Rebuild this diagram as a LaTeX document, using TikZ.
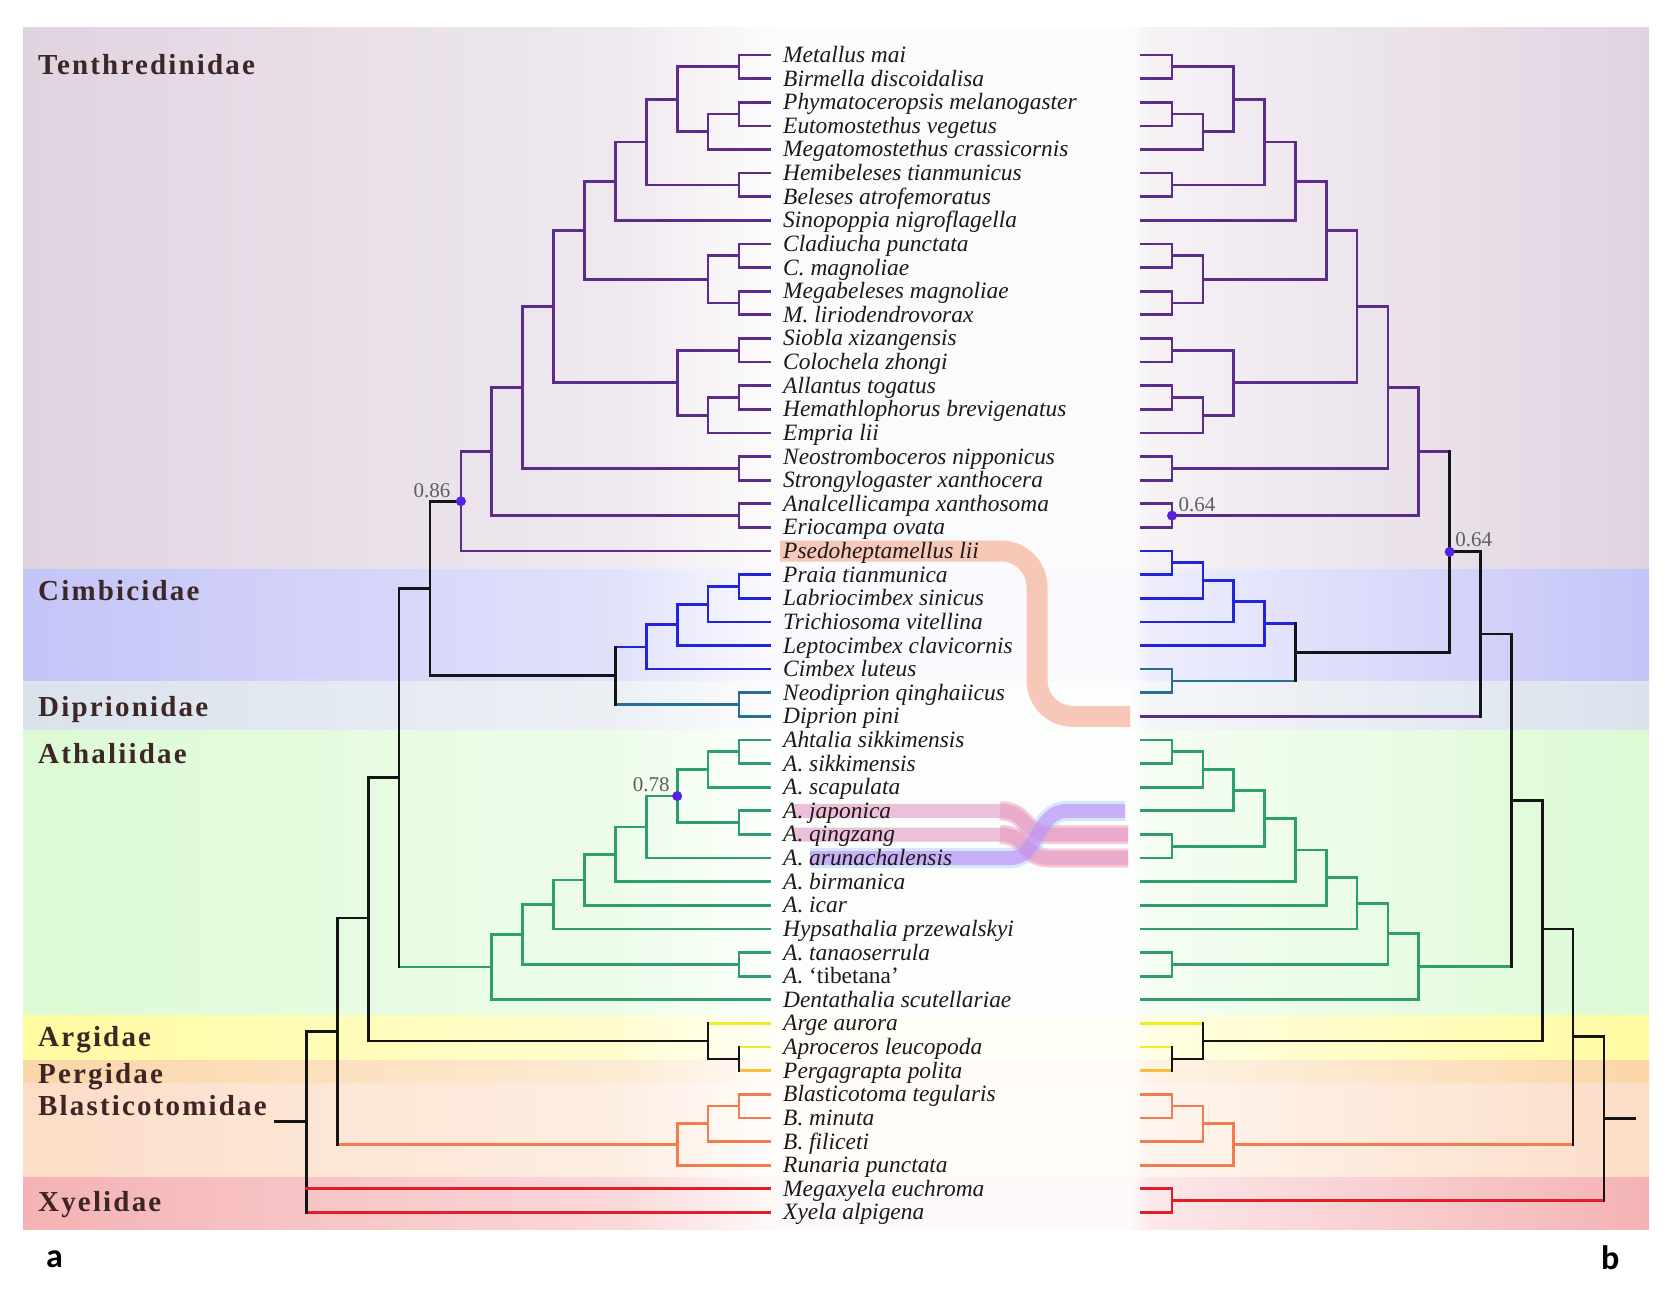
\documentclass[tikz,border=0pt]{standalone}
\usepackage{fontspec}
\setmainfont{Liberation Serif}
\newfontfamily\famfont[LetterSpace=7.5]{Liberation Serif}
\newfontfamily\panelfont{Carlito}
\usetikzlibrary{calc}
\definecolor{cpur}{RGB}{92,44,138}
\definecolor{cblu}{RGB}{35,35,215}
\definecolor{cteal}{RGB}{40,110,150}
\definecolor{cgrn}{RGB}{46,158,110}
\definecolor{cyel}{RGB}{238,236,40}
\definecolor{cgold}{RGB}{245,192,50}
\definecolor{corg}{RGB}{240,125,80}
\definecolor{cred}{RGB}{225,30,40}
\definecolor{cblk}{RGB}{20,20,20}
\definecolor{cdot}{RGB}{85,35,225}
\definecolor{ctxt}{RGB}{30,25,25}
\definecolor{cfam}{RGB}{60,38,38}
\definecolor{cbs}{RGB}{95,95,95}
\definecolor{bTen}{RGB}{224,211,224}
\definecolor{bCim}{RGB}{196,196,248}
\definecolor{bDip}{RGB}{218,226,236}
\definecolor{bAth}{RGB}{220,250,212}
\definecolor{bArg}{RGB}{255,251,160}
\definecolor{bPer}{RGB}{251,214,168}
\definecolor{bBla}{RGB}{252,221,198}
\definecolor{bXye}{RGB}{245,178,180}
\definecolor{ribO}{RGB}{246,186,166}
\definecolor{ribP}{RGB}{226,150,196}
\definecolor{ribPe}{RGB}{235,100,155}
\definecolor{ribV}{RGB}{192,140,246}
\definecolor{ribVe}{RGB}{176,208,255}
\tikzset{
  br/.style={line width=2.7pt, line cap=rect},
  leaf/.style={anchor=base west, inner sep=0pt, text=ctxt, font=\fontsize{23.4}{24}\selectfont\itshape},
  fam/.style={anchor=base west, inner sep=0pt, text=cfam, font=\fontsize{29}{30}\selectfont\famfont\bfseries},
  bs/.style={inner sep=0pt, text=cbs, font=\fontsize{21}{22}\selectfont},
  panel/.style={anchor=base west, inner sep=0pt, text=black, font=\fontsize{34}{36}\selectfont\panelfont\bfseries},
  ribbonO/.style={line width=21pt, draw=ribO, opacity=0.8, rounded corners=36pt},
  ribPo/.style={line width=19pt, draw=ribPe, opacity=0.35},
  ribPi/.style={line width=14pt, draw=ribP, opacity=0.6},
  ribVo/.style={line width=20pt, draw=ribVe, opacity=0.5},
  ribVi/.style={line width=14pt, draw=ribV, opacity=0.6},
}
% name, child1, child2, level, vertical colour, child1 colour, child2 colour
\newcommand\mkclade[7]{%
  \coordinate (#1m) at ($(#2)!.5!(#3)$);
  \coordinate (#1) at (#1m -| #4);
  \draw[br,#6] (#4 |- #2) -- (#2);
  \draw[br,#7] (#4 |- #3) -- (#3);
  \draw[br,#5] (#4 |- #2) -- (#4 |- #3);}
\newcommand\mkband[3]{%
  \shade[left color=#3, right color=#3!50!white] (23,#1) rectangle (621,#2);
  \shade[left color=#3!50!white, right color=#3!8!white] (620,#1) rectangle (776,#2);
  \fill[#3!8!white] (775,#1) rectangle (1131,#2);
  \shade[left color=#3!8!white, right color=#3!30!white] (1130,#1) rectangle (1151,#2);
  \shade[left color=#3!30!white, right color=#3] (1150,#1) rectangle (1649,#2);}
\begin{document}
\begin{tikzpicture}[x=1pt,y=-1pt]
\useasboundingbox (0,0) rectangle (1667,1295);
\fill[white] (0,0) rectangle (1667,1295);
% background bands
\mkband{28}{569}{bTen}
\mkband{569}{681}{bCim}
\mkband{681}{730}{bDip}
\mkband{730}{1015}{bAth}
\mkband{1015}{1060}{bArg}
\mkband{1060}{1083}{bPer}
\mkband{1083}{1177}{bBla}
\mkband{1177}{1229}{bXye}
% levels and leaf tips
\foreach \k in {0,...,15} {\coordinate (a\k) at ({739-30.9*\k},0);}
\foreach \k in {0,...,15} {\coordinate (b\k) at ({1172+30.85*\k},0);}
\foreach \i in {1,...,50} {\coordinate (la\i) at (770,{55+(\i-1)*23.62});
  \coordinate (lb\i) at (1141,{55+(\i-1)*23.62});}
% ribbons
\draw[ribbonO] (780,551.0) -- (1037,551.0) -- (1037,716.4) -- (1130,716.4);
\draw[ribPo] (1000,810.8) .. controls (1028,810.8) and (1022,834.5) .. (1050,834.5) -- (1128,834.5);
\draw[ribPo] (1000,834.5) .. controls (1028,834.5) and (1022,858.1) .. (1050,858.1) -- (1128,858.1);
\draw[ribVo] (810,858.1) -- (1010,858.1) .. controls (1040,858.1) and (1035,810.8) .. (1068,810.8) -- (1125,810.8);
\draw[ribPi] (793,810.8) -- (1000,810.8) .. controls (1028,810.8) and (1022,834.5) .. (1050,834.5) -- (1128,834.5);
\draw[ribPi] (793,834.5) -- (1000,834.5) .. controls (1028,834.5) and (1022,858.1) .. (1050,858.1) -- (1128,858.1);
\draw[ribVi] (810,858.1) -- (1010,858.1) .. controls (1040,858.1) and (1035,810.8) .. (1068,810.8) -- (1125,810.8);
% ---------- left tree (a) ----------
\mkclade{lA}{la1}{la2}{a0}{cpur}{cpur}{cpur}
\mkclade{lB}{la3}{la4}{a0}{cpur}{cpur}{cpur}
\mkclade{lC}{lB}{la5}{a1}{cpur}{cpur}{cpur}
\mkclade{lD}{lA}{lC}{a2}{cpur}{cpur}{cpur}
\mkclade{lE}{la6}{la7}{a0}{cpur}{cpur}{cpur}
\mkclade{lF}{lD}{lE}{a3}{cpur}{cpur}{cpur}
\mkclade{lG}{lF}{la8}{a4}{cpur}{cpur}{cpur}
\mkclade{lHa}{la9}{la10}{a0}{cpur}{cpur}{cpur}
\mkclade{lHb}{la11}{la12}{a0}{cpur}{cpur}{cpur}
\mkclade{lH}{lHa}{lHb}{a1}{cpur}{cpur}{cpur}
\mkclade{lI}{lG}{lH}{a5}{cpur}{cpur}{cpur}
\mkclade{lJa}{la13}{la14}{a0}{cpur}{cpur}{cpur}
\mkclade{lJb}{la15}{la16}{a0}{cpur}{cpur}{cpur}
\mkclade{lJc}{lJb}{la17}{a1}{cpur}{cpur}{cpur}
\mkclade{lJ}{lJa}{lJc}{a2}{cpur}{cpur}{cpur}
\mkclade{lK}{lI}{lJ}{a6}{cpur}{cpur}{cpur}
\mkclade{lL}{la18}{la19}{a0}{cpur}{cpur}{cpur}
\mkclade{lM}{lK}{lL}{a7}{cpur}{cpur}{cpur}
\mkclade{lN}{la20}{la21}{a0}{cpur}{cpur}{cpur}
\mkclade{lO}{lM}{lN}{a8}{cpur}{cpur}{cpur}
\mkclade{lP}{lO}{la22}{a9}{cpur}{cpur}{cpur}
\mkclade{lRa}{la23}{la24}{a0}{cblu}{cblu}{cblu}
\mkclade{lRb}{lRa}{la25}{a1}{cblu}{cblu}{cblu}
\mkclade{lRc}{lRb}{la26}{a2}{cblu}{cblu}{cblu}
\mkclade{lRd}{lRc}{la27}{a3}{cblu}{cblu}{cblu}
\mkclade{lRe}{la28}{la29}{a0}{cteal}{cteal}{cteal}
\mkclade{lRf}{lRd}{lRe}{a4}{cblk}{cblu}{cteal}
\mkclade{lTa}{lP}{lRf}{a10}{cblk}{cblk}{cblk}
\mkclade{lQa}{la30}{la31}{a0}{cgrn}{cgrn}{cgrn}
\mkclade{lQb}{lQa}{la32}{a1}{cgrn}{cgrn}{cgrn}
\mkclade{lQc}{la33}{la34}{a0}{cgrn}{cgrn}{cgrn}
\mkclade{lQd}{lQb}{lQc}{a2}{cgrn}{cgrn}{cgrn}
\mkclade{lQe}{lQd}{la35}{a3}{cgrn}{cgrn}{cgrn}
\mkclade{lQf}{lQe}{la36}{a4}{cgrn}{cgrn}{cgrn}
\mkclade{lQg}{lQf}{la37}{a5}{cgrn}{cgrn}{cgrn}
\mkclade{lQh}{lQg}{la38}{a6}{cgrn}{cgrn}{cgrn}
\mkclade{lQi}{la39}{la40}{a0}{cgrn}{cgrn}{cgrn}
\mkclade{lQj}{lQh}{lQi}{a7}{cgrn}{cgrn}{cgrn}
\mkclade{lQk}{lQj}{la41}{a8}{cgrn}{cgrn}{cgrn}
\mkclade{lTb}{lTa}{lQk}{a11}{cblk}{cblk}{cgrn}
\mkclade{lSa}{la43}{la44}{a0}{cblk}{cyel}{cgold}
\mkclade{lSb}{la42}{lSa}{a1}{cblk}{cyel}{cblk}
\mkclade{lTc}{lTb}{lSb}{a12}{cblk}{cblk}{cblk}
\coordinate (lTc) at (a12 |- 0,918);
\mkclade{lUa}{la45}{la46}{a0}{corg}{corg}{corg}
\mkclade{lUb}{lUa}{la47}{a1}{corg}{corg}{corg}
\mkclade{lUc}{lUb}{la48}{a2}{corg}{corg}{corg}
\mkclade{lTd}{lTc}{lUc}{a13}{cblk}{cblk}{corg}
\mkclade{lRoot}{lTd}{la50}{a14}{cblk}{cblk}{cred}
\draw[br,cred] (a14 |- la49) -- (la49);
\coordinate (lStub) at (a15 |- lRoot);
\draw[br,cblk] (lStub) -- (lRoot);
% ---------- right tree (b) ----------
\mkclade{rA}{lb1}{lb2}{b0}{cpur}{cpur}{cpur}
\mkclade{rB}{lb3}{lb4}{b0}{cpur}{cpur}{cpur}
\mkclade{rC}{rB}{lb5}{b1}{cpur}{cpur}{cpur}
\mkclade{rD}{rA}{rC}{b2}{cpur}{cpur}{cpur}
\mkclade{rE}{lb6}{lb7}{b0}{cpur}{cpur}{cpur}
\mkclade{rF}{rD}{rE}{b3}{cpur}{cpur}{cpur}
\mkclade{rG}{rF}{lb8}{b4}{cpur}{cpur}{cpur}
\mkclade{rHa}{lb9}{lb10}{b0}{cpur}{cpur}{cpur}
\mkclade{rHb}{lb11}{lb12}{b0}{cpur}{cpur}{cpur}
\mkclade{rH}{rHa}{rHb}{b1}{cpur}{cpur}{cpur}
\mkclade{rI}{rG}{rH}{b5}{cpur}{cpur}{cpur}
\mkclade{rJa}{lb13}{lb14}{b0}{cpur}{cpur}{cpur}
\mkclade{rJb}{lb15}{lb16}{b0}{cpur}{cpur}{cpur}
\mkclade{rJc}{rJb}{lb17}{b1}{cpur}{cpur}{cpur}
\mkclade{rJ}{rJa}{rJc}{b2}{cpur}{cpur}{cpur}
\mkclade{rK}{rI}{rJ}{b6}{cpur}{cpur}{cpur}
\mkclade{rL}{lb18}{lb19}{b0}{cpur}{cpur}{cpur}
\mkclade{rM}{rK}{rL}{b7}{cpur}{cpur}{cpur}
\mkclade{rN}{lb20}{lb21}{b0}{cpur}{cpur}{cpur}
\mkclade{rO}{rM}{rN}{b8}{cpur}{cpur}{cpur}
\mkclade{rRa}{lb22}{lb23}{b0}{cblu}{cblu}{cblu}
\mkclade{rRb}{rRa}{lb24}{b1}{cblu}{cblu}{cblu}
\mkclade{rRc}{rRb}{lb25}{b2}{cblu}{cblu}{cblu}
\mkclade{rRd}{rRc}{lb26}{b3}{cblu}{cblu}{cblu}
\mkclade{rRe}{lb27}{lb28}{b0}{cteal}{cteal}{cteal}
\mkclade{rRf}{rRd}{rRe}{b4}{cblk}{cblu}{cteal}
\mkclade{rWa}{rO}{rRf}{b9}{cblk}{cpur}{cblk}
\mkclade{rWb}{rWa}{lb29}{b10}{cblk}{cblk}{cpur}
\mkclade{rQa}{lb30}{lb31}{b0}{cgrn}{cgrn}{cgrn}
\mkclade{rQb}{rQa}{lb32}{b1}{cgrn}{cgrn}{cgrn}
\mkclade{rQc}{rQb}{lb33}{b2}{cgrn}{cgrn}{cgrn}
\mkclade{rQd}{lb34}{lb35}{b0}{cgrn}{cgrn}{cgrn}
\mkclade{rQe}{rQc}{rQd}{b3}{cgrn}{cgrn}{cgrn}
\mkclade{rQf}{rQe}{lb36}{b4}{cgrn}{cgrn}{cgrn}
\mkclade{rQg}{rQf}{lb37}{b5}{cgrn}{cgrn}{cgrn}
\mkclade{rQh}{rQg}{lb38}{b6}{cgrn}{cgrn}{cgrn}
\mkclade{rQi}{lb39}{lb40}{b0}{cgrn}{cgrn}{cgrn}
\mkclade{rQj}{rQh}{rQi}{b7}{cgrn}{cgrn}{cgrn}
\mkclade{rQk}{rQj}{lb41}{b8}{cgrn}{cgrn}{cgrn}
\mkclade{rWc}{rWb}{rQk}{b11}{cblk}{cblk}{cgrn}
\mkclade{rSa}{lb43}{lb44}{b0}{cblk}{cyel}{cgold}
\mkclade{rSb}{lb42}{rSa}{b1}{cblk}{cyel}{cblk}
\mkclade{rWd}{rWc}{rSb}{b12}{cblk}{cblk}{cblk}
\coordinate (rWd) at (b12 |- 0,929);
\mkclade{rUa}{lb45}{lb46}{b0}{corg}{corg}{corg}
\mkclade{rUb}{rUa}{lb47}{b1}{corg}{corg}{corg}
\mkclade{rUc}{rUb}{lb48}{b2}{corg}{corg}{corg}
\mkclade{rWe}{rWd}{rUc}{b13}{cblk}{cblk}{corg}
\mkclade{rX}{lb49}{lb50}{b0}{cred}{cred}{cred}
\mkclade{rRoot}{rWe}{rX}{b14}{cblk}{cblk}{cred}
\coordinate (rStub) at (b15 |- rRoot);
\draw[br,cblk] (rRoot) -- (rStub);
% support dots and values
\fill[cdot] (lP) circle[radius=5];
\fill[cdot] (lQd) circle[radius=5];
\fill[cdot] (rN) circle[radius=5];
\fill[cdot] (rWa) circle[radius=5];
\node[bs] (s1) at ($(lP)+(-29,-11)$) {0.86};
\node[bs] (s2) at ($(lQd)+(-26,-11)$) {0.78};
\node[bs] (s3) at ($(rN)+(25,-11)$) {0.64};
\node[bs] (s4) at ($(rWa)+(24,-12)$) {0.64};
% leaf names
\foreach \i/\t in {1/Metallus mai, 2/Birmella discoidalisa, 3/Phymatoceropsis melanogaster,
  4/Eutomostethus vegetus, 5/Megatomostethus crassicornis, 6/Hemibeleses tianmunicus,
  7/Beleses atrofemoratus, 8/Sinopoppia nigroflagella, 9/Cladiucha punctata,
  10/C. magnoliae, 11/Megabeleses magnoliae, 12/M. liriodendrovorax,
  13/Siobla xizangensis, 14/Colochela zhongi, 15/Allantus togatus,
  16/Hemathlophorus brevigenatus, 17/Empria lii, 18/Neostromboceros nipponicus,
  19/Strongylogaster xanthocera, 20/Analcellicampa xanthosoma, 21/Eriocampa ovata,
  22/Psedoheptamellus lii, 23/Praia tianmunica, 24/Labriocimbex sinicus,
  25/Trichiosoma vitellina, 26/Leptocimbex clavicornis, 27/Cimbex luteus,
  28/Neodiprion qinghaiicus, 29/Diprion pini, 30/Ahtalia sikkimensis,
  31/A. sikkimensis, 32/A. scapulata, 33/A. japonica, 34/A. qingzang,
  35/A. arunachalensis, 36/A. birmanica, 37/A. icar, 38/Hypsathalia przewalskyi,
  39/A. tanaoserrula, 40/{A.\ \upshape‘tibetana’}, 41/Dentathalia scutellariae,
  42/Arge aurora, 43/Aproceros leucopoda, 44/Pergagrapta polita,
  45/Blasticotoma tegularis, 46/B. minuta, 47/B. filiceti, 48/Runaria punctata,
  49/Megaxyela euchroma, 50/Xyela alpigena}
  {\node[leaf] (t\i) at (783,{55+(\i-1)*23.62+7.5}) {\t};}
% family names
\node[fam] (fTen) at (38,75) {Tenthredinidae};
\node[fam] (fCim) at (38,600) {Cimbicidae};
\node[fam] (fDip) at (38,716) {Diprionidae};
\node[fam] (fAth) at (38,763) {Athaliidae};
\node[fam] (fArg) at (38,1046) {Argidae};
\node[fam] (fPer) at (38,1083) {Pergidae};
\node[fam] (fBla) at (38,1115) {Blasticotomidae};
\node[fam] (fXye) at (38,1211) {Xyelidae};
% panel letters
\node[panel] (pa) at (46,1267) {a};
\node[panel] (pb) at (1601,1269) {b};
\end{tikzpicture}
\end{document}
